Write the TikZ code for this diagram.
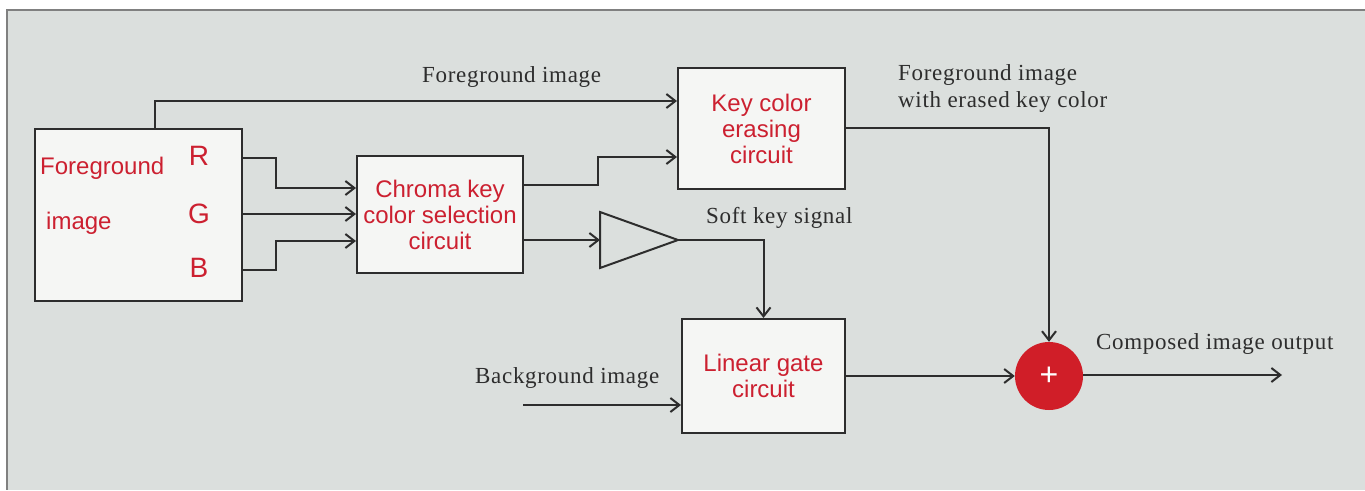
\documentclass[tikz,border=0pt]{standalone}
\usepackage{fontspec}
\usepackage{xcolor}
\usepackage{tikz}
\usetikzlibrary{positioning, arrows.meta}
\setmainfont{Liberation Serif}
\newfontfamily\redsans{Liberation Sans}
\newfontfamily\lblserif{Liberation Serif}[LetterSpace=3]
\definecolor{paper}{RGB}{219,223,221}
\definecolor{boxfill}{RGB}{245,246,244}
\definecolor{keyred}{RGB}{204,32,48}
\definecolor{sumred}{RGB}{208,30,40}
\definecolor{ink}{RGB}{45,45,45}

\begin{document}
\begin{tikzpicture}[x=1pt, y=-1pt, every node/.style={inner sep=0pt},
  block/.style={draw=ink, line width=2pt, fill=boxfill, align=center,
    font=\redsans\fontsize{24}{26}\selectfont, text=keyred},
  redtxt/.style={font=\redsans\fontsize{24}{26}\selectfont, text=keyred},
  chan/.style={font=\redsans\fontsize{28}{30}\selectfont, text=keyred},
  lbl/.style={font=\lblserif\fontsize{23}{27}\selectfont, text=ink, align=left, anchor=west},
  wire/.style={draw=ink, line width=2pt},
  arrow/.style={wire, -{Straight Barb[length=9pt, width=14pt]}}]
\useasboundingbox (0,0) rectangle (1365,490);
\fill[white] (0,0) rectangle (1365,490);
\fill[paper] (7,10) rectangle (1365,490);
\draw[gray, line width=1.5pt] (1365,10) -- (7,10) -- (7,490);

% blocks
\node[block, minimum width=207pt, minimum height=172pt] (FG) at (138.5,215) {};
\node[redtxt, anchor=west] (FGa) at (40,168) {Foreground};
\node[redtxt, anchor=west] (FGb) at (46,223) {image};
\node[chan] (R) at (199,156) {R};
\node[chan] (G) at (199,214) {G};
\node[chan] (B) at (199,268) {B};
\node[block, minimum width=166pt, minimum height=117pt] (CK) at (440,214.5)
  {Chroma key\\color selection\\circuit};
\node[block, minimum width=167pt, minimum height=121pt] (KE) at (761.5,128.5)
  {Key color\\erasing\\circuit};
\node[block, minimum width=163pt, minimum height=114pt] (LG) at (763.5,376)
  {Linear gate\\circuit};
\node[circle, fill=sumred, minimum size=68pt, text=white,
  font=\redsans\fontsize{32}{32}\selectfont] (SUM) at (1049,376) {+};

% amplifier
\coordinate (AMPin) at (600,240);
\coordinate (AMPout) at (678,240);
\draw[wire, line join=miter] (600,212) -- (AMPout) -- (600,268) -- cycle;

% connectors
\draw[arrow] ([xshift=16.5pt]FG.north) |- (KE.west |- 0,101);
\draw[arrow] (FG.east |- 0,158) -| (276,188) -- (CK.west |- 0,188);
\draw[arrow] (FG.east |- 0,214) -- (CK.west |- 0,214);
\draw[arrow] (FG.east |- 0,270) -| (276,241) -- (CK.west |- 0,241);
\draw[arrow] (CK.east |- 0,185) -| (598,157) -- (KE.west |- 0,157);
\draw[arrow] (CK.east |- 0,240) -- (AMPin);
\draw[arrow] (AMPout) -| (LG.north);
\draw[arrow] (KE.east |- 0,128) -| (SUM.north);
\draw[arrow] (LG.east) -- (SUM.west);
\coordinate (BGin) at (523,405);
\draw[arrow] (BGin) -- (LG.west |- BGin);
\coordinate (OUT) at (1282,375);
\draw[arrow] (SUM.east |- OUT) -- (OUT);

% labels
\node[lbl] (Lfg) at (422,77) {Foreground image};
\node[lbl] (Lerase) at (898,89) {Foreground image\\with erased key color};
\node[lbl] (Lsoft) at (706,218) {Soft key signal};
\node[lbl] (Lbg) at (475,378) {Background image};
\node[lbl] (Lout) at (1096,344) {Composed image output};
\end{tikzpicture}
\end{document}
